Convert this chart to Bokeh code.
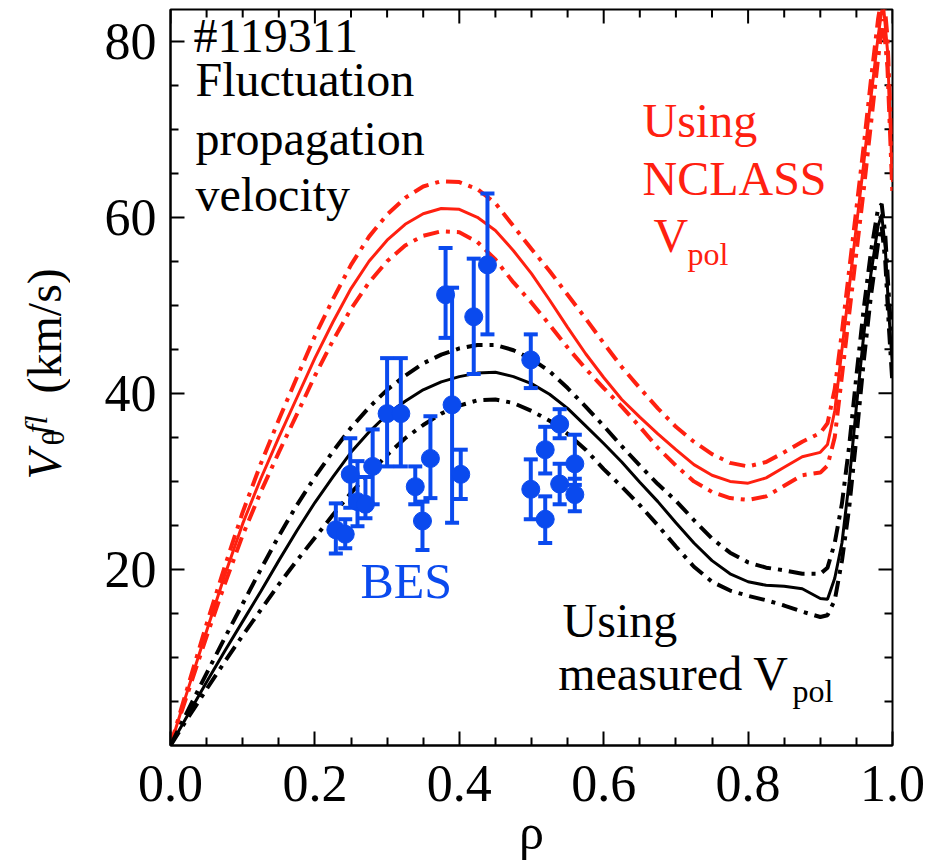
import math
from bokeh.plotting import figure
from bokeh.layouts import row
from bokeh.models import Label, FixedTicker, PrintfTickFormatter, Range1d
from bokeh.embed import file_html
from bokeh.resources import INLINE

# ---------------- data ----------------
x_ticks = [0.0, 0.2, 0.4, 0.6, 0.8, 1.0]
x_minor = [0.05, 0.1, 0.15, 0.25, 0.3, 0.35, 0.45, 0.5, 0.55, 0.65, 0.7, 0.75, 0.85, 0.9, 0.95]
y_ticks = [20, 40, 60, 80]
y_minor = [5, 10, 15, 25, 30, 35, 45, 50, 55, 65, 70, 75]

rho_red = [0.0, 0.02, 0.05, 0.075, 0.1, 0.125, 0.15, 0.175, 0.2, 0.225, 0.25, 0.275, 0.3, 0.325,
           0.35, 0.375, 0.4, 0.425, 0.45, 0.475, 0.5, 0.525, 0.55, 0.575, 0.6, 0.625, 0.65, 0.675,
           0.7, 0.725, 0.75, 0.775, 0.8, 0.825, 0.85, 0.875, 0.9, 0.91, 0.92, 0.93, 0.94, 0.95,
           0.96, 0.97, 0.98, 0.987, 0.993, 1.0]
nclass_mid = [0.0, 5.3, 13.0, 19.3, 25.2, 30.3, 35.0, 39.5, 44.0, 48.1, 51.9, 55.0, 57.4, 59.2,
              60.4, 61.0, 60.9, 60.0, 58.5, 56.2, 53.6, 50.6, 47.5, 44.5, 41.8, 39.3, 37.3, 35.4,
              33.6, 31.9, 30.7, 30.0, 29.8, 30.4, 31.6, 32.8, 33.3, 34.2, 38.0, 45.0, 52.0, 59.0,
              66.0, 73.5, 80.5, 84.5, 79.0, 64.0]
nclass_hi = [0.0, 5.6, 13.8, 20.3, 26.5, 32.0, 37.0, 41.8, 46.5, 50.7, 54.6, 57.8, 60.3, 62.2,
             63.5, 64.1, 64.0, 63.2, 61.6, 59.0, 56.4, 53.9, 51.2, 48.5, 45.7, 43.0, 40.6, 38.3,
             36.2, 34.5, 33.1, 32.1, 31.7, 32.2, 33.3, 34.5, 35.5, 36.6, 40.5, 47.0, 54.0, 61.0,
             68.0, 75.5, 82.5, 86.0, 80.5, 65.5]
nclass_lo = [0.0, 5.0, 12.4, 18.3, 23.9, 28.8, 33.3, 37.6, 42.0, 46.0, 49.6, 52.6, 55.0, 56.8,
             57.9, 58.4, 58.3, 57.2, 55.2, 52.6, 50.3, 47.8, 45.2, 42.8, 40.6, 38.5, 36.2, 33.8,
             31.8, 30.0, 28.8, 28.1, 27.9, 28.3, 29.5, 30.7, 31.0, 31.8, 35.0, 42.0, 49.0, 56.0,
             63.0, 70.5, 78.0, 82.5, 77.0, 62.5]

rho_blk = [0.0, 0.02, 0.05, 0.075, 0.1, 0.125, 0.15, 0.175, 0.2, 0.225, 0.25, 0.275, 0.3, 0.325,
           0.35, 0.375, 0.4, 0.425, 0.45, 0.475, 0.5, 0.525, 0.55, 0.575, 0.6, 0.625, 0.65, 0.675,
           0.7, 0.725, 0.75, 0.775, 0.8, 0.825, 0.85, 0.875, 0.9, 0.91, 0.92, 0.93, 0.94, 0.95,
           0.96, 0.97, 0.98, 0.985, 0.99, 0.995, 1.0]
meas_mid = [0.0, 2.9, 7.2, 10.7, 14.1, 17.5, 21.0, 24.4, 27.6, 30.5, 33.3, 35.6, 37.6, 39.1,
            40.4, 41.3, 41.9, 42.3, 42.4, 41.9, 41.1, 39.9, 38.3, 36.3, 34.3, 32.2, 29.9, 27.7,
            25.3, 23.0, 21.0, 19.5, 18.6, 18.2, 18.1, 17.8, 16.7, 16.6, 19.0, 23.0, 30.0, 38.5,
            46.5, 53.5, 59.0, 60.3, 56.5, 49.0, 43.0]
meas_hi = [0.0, 3.3, 8.2, 12.2, 16.1, 20.0, 23.8, 27.3, 30.5, 33.4, 36.1, 38.4, 40.4, 42.0,
           43.4, 44.4, 45.1, 45.5, 45.5, 44.9, 43.9, 42.5, 40.6, 38.5, 36.3, 34.0, 31.8, 29.7,
           27.8, 25.6, 23.5, 21.9, 20.8, 20.2, 19.9, 19.5, 19.5, 20.2, 23.0, 27.5, 34.0, 42.0,
           49.5, 56.0, 61.0, 61.5, 58.0, 51.0, 45.0]
meas_lo = [0.0, 2.6, 6.4, 9.5, 12.5, 15.4, 18.3, 21.0, 23.6, 26.2, 28.7, 30.9, 33.0, 34.9,
           36.4, 37.7, 38.6, 39.2, 39.3, 38.9, 38.0, 36.9, 35.4, 33.6, 31.4, 29.4, 27.3, 25.0,
           22.6, 20.3, 18.6, 17.6, 17.0, 16.5, 15.9, 15.2, 14.6, 14.8, 16.5, 21.0, 27.0, 35.0,
           43.5, 51.0, 57.0, 59.0, 55.0, 47.5, 41.0]

bes_rho = [0.229, 0.242, 0.249, 0.259, 0.270, 0.280, 0.300, 0.319, 0.339, 0.349, 0.360, 0.381,
           0.390, 0.402, 0.420, 0.439, 0.499, 0.499, 0.519, 0.519, 0.539, 0.539, 0.560, 0.560]
bes_v = [24.5, 24.0, 30.8, 27.7, 27.4, 31.7, 37.7, 37.7, 29.4, 25.5, 32.6, 51.2,
         38.7, 30.8, 48.7, 54.6, 43.8, 29.1, 33.6, 25.7, 36.5, 29.7, 32.0, 28.5]
bes_hi = [27.5, 25.7, 34.9, 32.3, 30.5, 35.9, 44.0, 44.0, 31.7, 27.7, 37.4, 56.5,
          52.0, 33.6, 55.3, 62.7, 46.7, 32.5, 36.2, 28.3, 38.2, 32.0, 35.3, 30.3]
bes_lo = [21.8, 22.4, 27.0, 24.9, 25.8, 27.4, 31.7, 31.7, 27.4, 22.2, 28.1, 46.3,
          25.3, 28.0, 42.2, 46.7, 40.6, 25.7, 30.9, 23.0, 34.9, 27.4, 29.6, 26.6]

RED = "#ff2010"
BLACK = "#000000"
BLUE = "#0a4aee"
SERIF = "Liberation Serif"
DASHDOT = "16 7 4 7"
X_MAX = 1.0
Y_MAX = 83.6

# ---------------- main plot ----------------
p = figure(width=871, height=862, x_range=Range1d(0, X_MAX), y_range=Range1d(0, Y_MAX),
           output_backend="svg", toolbar_location=None, title=None,
           min_border_left=100, min_border_right=49, min_border_top=9, min_border_bottom=117)
p.background_fill_color = "white"
p.border_fill_color = "white"
p.outline_line_color = "black"
p.outline_line_width = 2
p.xgrid.visible = False
p.ygrid.visible = False

def style_axis(ax, standoff):
    ax.major_tick_in = 14
    ax.major_tick_out = 0
    ax.minor_tick_in = 8
    ax.minor_tick_out = 0
    ax.major_tick_line_width = 2
    ax.minor_tick_line_width = 2
    ax.major_tick_line_color = "black"
    ax.minor_tick_line_color = "black"
    ax.axis_line_width = 2
    ax.axis_line_color = "black"
    ax.major_label_standoff = standoff
    ax.major_label_text_font = SERIF
    ax.major_label_text_font_size = "52px"
    ax.major_label_text_color = "black"

p.xaxis.ticker = FixedTicker(ticks=x_ticks, minor_ticks=x_minor)
p.xaxis.formatter = PrintfTickFormatter(format="%.1f")
p.yaxis.ticker = FixedTicker(ticks=y_ticks, minor_ticks=y_minor)
style_axis(p.xaxis[0], 20)
style_axis(p.yaxis[0], 14)
p.xaxis.axis_label = "ρ"
p.xaxis.axis_label_text_font = SERIF
p.xaxis.axis_label_text_font_size = "50px"
p.xaxis.axis_label_text_font_style = "normal"
p.xaxis.axis_label_text_color = "black"
p.xaxis.axis_label_standoff = 0

# mirrored ticks on top and right edges (half of each dash is clipped by the frame)
p.scatter(x_ticks, [Y_MAX] * len(x_ticks), marker="dash", angle=math.pi / 2, size=28,
          line_color="black", line_width=2)
p.scatter(x_minor, [Y_MAX] * len(x_minor), marker="dash", angle=math.pi / 2, size=16,
          line_color="black", line_width=2)
p.scatter([X_MAX] * len(y_ticks), y_ticks, marker="dash", size=28, line_color="black", line_width=2)
p.scatter([X_MAX] * len(y_minor), y_minor, marker="dash", size=16, line_color="black", line_width=2)

# curves
p.line(rho_red, nclass_mid, line_color=RED, line_width=3)
p.line(rho_red, nclass_hi, line_color=RED, line_width=4, line_dash=DASHDOT)
p.line(rho_red, nclass_lo, line_color=RED, line_width=4, line_dash=DASHDOT)
p.line(rho_blk, meas_mid, line_color=BLACK, line_width=3)
p.line(rho_blk, meas_hi, line_color=BLACK, line_width=4, line_dash=DASHDOT)
p.line(rho_blk, meas_lo, line_color=BLACK, line_width=4, line_dash=DASHDOT)

# BES points
p.segment(x0=bes_rho, y0=bes_lo, x1=bes_rho, y1=bes_hi, line_color=BLUE, line_width=4)
p.scatter(bes_rho, bes_hi, marker="dash", size=14, line_color=BLUE, line_width=4)
p.scatter(bes_rho, bes_lo, marker="dash", size=14, line_color=BLUE, line_width=4)
p.scatter(bes_rho, bes_v, marker="circle", size=18, fill_color=BLUE, line_color=BLUE)

def lab(fig, x, y, text, size=48, color="black", style="normal", align="left", angle=0.0):
    fig.add_layout(Label(x=x, y=y, text=text, text_font=SERIF, text_font_size=f"{size}px",
                         text_color=color, text_font_style=style, text_align=align,
                         text_baseline="alphabetic", angle=angle))

lab(p, 0.0319, 80.6, "#119311")
lab(p, 0.0346, 75.6, "Fluctuation")
lab(p, 0.0346, 69.0, "propagation")
lab(p, 0.0346, 62.6, "velocity")

lab(p, 0.6537, 71.0, "Using", color=RED)
lab(p, 0.6537, 64.4, "NCLASS", color=RED)
lab(p, 0.669, 57.95, "V", color=RED)
lab(p, 0.716, 55.8, "pol", size=32, color=RED)

lab(p, 0.543, 14.2, "Using")
lab(p, 0.537, 8.2, "measured V")
lab(p, 0.8615, 6.15, "pol", size=32)

lab(p, 0.263, 18.7, "BES", size=50, color=BLUE)

# ---------------- y-axis title strip (frame aligned with main frame: px 9..745) ----------------
t = figure(width=70, height=862, x_range=Range1d(0, 70), y_range=Range1d(862 - 745, 862 - 9),
           output_backend="svg", toolbar_location=None, title=None, min_border=0,
           x_axis_type=None, y_axis_type=None)
t.outline_line_color = None
t.xgrid.visible = False
t.ygrid.visible = False
t.background_fill_color = "white"
t.border_fill_color = "white"
A = math.pi / 2
lab(t, 44, 862 - 479, "V", size=48, style="italic", angle=A)
lab(t, 52, 862 - 445, "θ", size=32, angle=A)
lab(t, 35, 862 - 433, "fl", size=32, style="italic", angle=A)
lab(t, 44, 862 - 393, "(km/s)", size=48, angle=A)

layout = row(t, p, spacing=0)
open("out.html", "w").write(file_html(layout, INLINE))
